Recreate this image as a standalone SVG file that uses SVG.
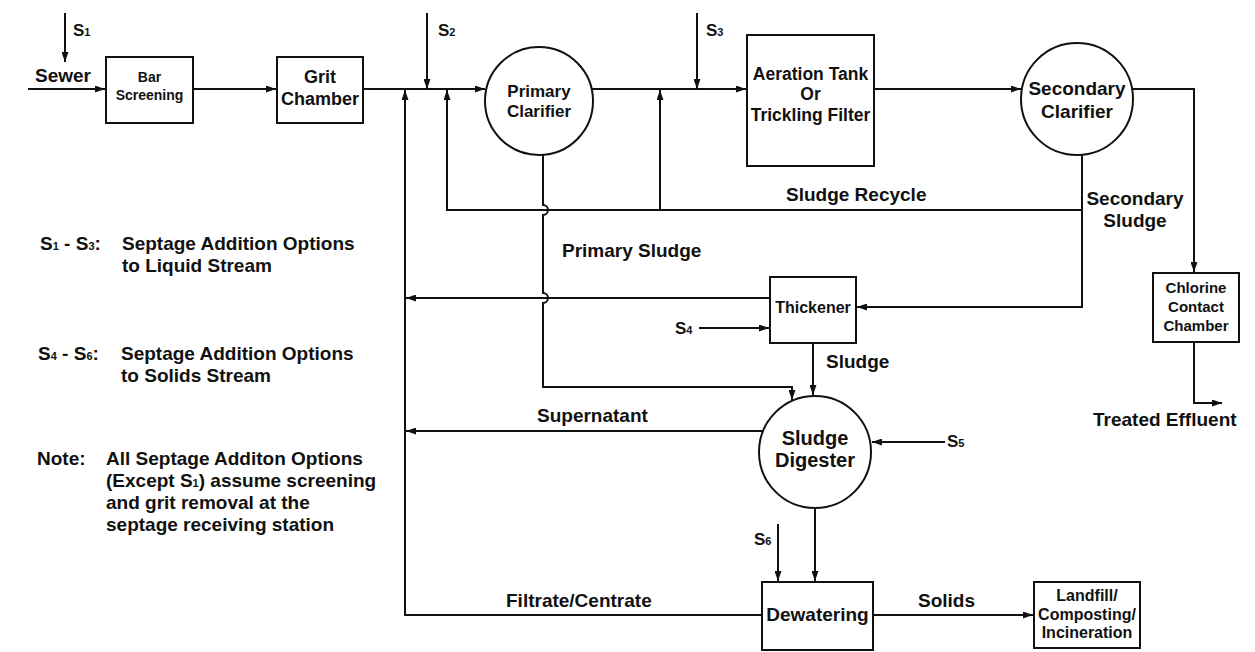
<svg xmlns="http://www.w3.org/2000/svg" width="1255" height="652" viewBox="0 0 1255 652">
<defs>
<marker id="ah" viewBox="0 0 10 7" markerWidth="10" markerHeight="7" refX="10" refY="3.5" orient="auto" markerUnits="userSpaceOnUse">
<path d="M0,0 L10,3.5 L0,7 z" fill="#111"/>
</marker>
<style>
text{font-family:"Liberation Sans",Arial,Helvetica,sans-serif;font-weight:bold;fill:#111}
.box{fill:#fff;stroke:#111;stroke-width:2}
.c{text-anchor:middle}
.lbl{font-size:19px}
.conn path{fill:none;stroke:#111;stroke-width:2}
.arr{marker-end:url(#ah)}
.sub{font-size:11px}
</style>
</defs>
<rect width="1255" height="652" fill="#fff"/>

<g id="connectors" class="conn">
<path class="arr" d="M28,89 H105"/>
<path class="arr" d="M193,89 H276"/>
<path class="arr" d="M363,89 H485"/>
<path class="arr" d="M592,89 H746"/>
<path class="arr" d="M874,89 H1021"/>
<path class="arr" d="M1132,89 H1194 V272"/>
<path class="arr" d="M1194,342 V403 H1222"/>
<path class="arr" d="M65,13 V62"/>
<path class="arr" d="M427,13 V89"/>
<path class="arr" d="M697,13 V89"/>
<path class="arr" d="M1082,155 V307 H857"/>
<path class="arr" d="M1082,210 H447 V90"/>
<path class="arr" d="M660,210 V90"/>
<path class="arr" d="M543,155 V205 a5,5 0 0 1 0,10 V293 a5,5 0 0 1 0,10 V387 H792 V400"/>
<path class="arr" d="M813,343 V395"/>
<path class="arr" d="M770,298 H406"/>
<path class="arr" d="M699,328 H769"/>
<path class="arr" d="M763,431 H406"/>
<path class="arr" d="M945,442 H872"/>
<path class="arr" d="M815,508 V581"/>
<path class="arr" d="M778,524 V581"/>
<path class="arr" d="M762,615 H405 V90"/>
<path class="arr" d="M873,615 H1033"/>
</g>

<g id="bar-screening">
<rect class="box" x="106" y="57" width="87" height="66"/>
<text class="c" x="149.5" y="82" font-size="14">Bar</text>
<text class="c" x="149.5" y="100" font-size="14">Screening</text>
</g>
<g id="grit-chamber">
<rect class="box" x="277" y="57" width="86" height="66"/>
<text class="c" x="320" y="83" font-size="18">Grit</text>
<text class="c" x="320" y="105" font-size="18">Chamber</text>
</g>
<g id="primary-clarifier">
<circle class="box" cx="539" cy="101" r="54"/>
<text class="c" x="539" y="97" font-size="17">Primary</text>
<text class="c" x="539" y="117" font-size="17">Clarifier</text>
</g>
<g id="aeration-tank">
<rect class="box" x="747" y="35" width="127" height="131"/>
<text class="c" x="810.5" y="80" font-size="17.5">Aeration Tank</text>
<text class="c" x="810.5" y="100" font-size="17.5">Or</text>
<text class="c" x="810.5" y="121" font-size="17.5">Trickling Filter</text>
</g>
<g id="secondary-clarifier">
<circle class="box" cx="1077" cy="99" r="56"/>
<text class="c" x="1077" y="95" font-size="19">Secondary</text>
<text class="c" x="1077" y="118" font-size="19">Clarifier</text>
</g>
<g id="chlorine-contact-chamber">
<rect class="box" x="1153" y="273" width="86" height="69"/>
<text class="c" x="1196" y="293" font-size="15">Chlorine</text>
<text class="c" x="1196" y="312" font-size="15">Contact</text>
<text class="c" x="1196" y="331" font-size="15">Chamber</text>
</g>
<g id="thickener">
<rect class="box" x="770" y="277" width="86" height="66"/>
<text class="c" x="813" y="313" font-size="16">Thickener</text>
</g>
<g id="sludge-digester">
<circle class="box" cx="815" cy="452" r="56"/>
<text class="c" x="815" y="445" font-size="20">Sludge</text>
<text class="c" x="815" y="467" font-size="20">Digester</text>
</g>
<g id="dewatering">
<rect class="box" x="762" y="582" width="111" height="68"/>
<text class="c" x="817.5" y="621" font-size="19">Dewatering</text>
</g>
<g id="landfill">
<rect class="box" x="1034" y="582" width="106" height="66"/>
<text class="c" x="1087" y="601" font-size="16">Landfill/</text>
<text class="c" x="1087" y="620" font-size="16">Composting/</text>
<text class="c" x="1087" y="638" font-size="16">Incineration</text>
</g>

<g id="labels" class="lbl">
<text x="35" y="82" font-size="19">Sewer</text>
<text x="73" y="36" font-size="17">S<tspan class="sub">1</tspan></text>
<text x="438" y="36" font-size="17">S<tspan class="sub">2</tspan></text>
<text x="706" y="36" font-size="17">S<tspan class="sub">3</tspan></text>
<text x="675" y="334" font-size="17">S<tspan class="sub">4</tspan></text>
<text x="947" y="447" font-size="17">S<tspan class="sub">5</tspan></text>
<text x="754" y="545" font-size="17">S<tspan class="sub">6</tspan></text>
<text x="786" y="201" font-size="19">Sludge Recycle</text>
<text class="c" x="1135" y="205" font-size="19">Secondary</text>
<text class="c" x="1135" y="227" font-size="19">Sludge</text>
<text x="562" y="257" font-size="19">Primary Sludge</text>
<text x="826" y="368" font-size="19">Sludge</text>
<text x="537" y="422" font-size="19">Supernatant</text>
<text x="1093" y="426" font-size="19">Treated Effluent</text>
<text x="506" y="607" font-size="19">Filtrate/Centrate</text>
<text x="918" y="607" font-size="19">Solids</text>
</g>

<g id="legend" font-size="19">
<text x="40" y="250" font-size="19">S<tspan class="sub">1</tspan> - S<tspan class="sub">3</tspan>:</text>
<text x="122" y="250" font-size="19">Septage Addition Options</text>
<text x="122" y="272" font-size="19">to Liquid Stream</text>
<text x="38" y="360" font-size="19">S<tspan class="sub">4</tspan> - S<tspan class="sub">6</tspan>:</text>
<text x="121" y="360" font-size="19">Septage Addition Options</text>
<text x="121" y="382" font-size="19">to Solids Stream</text>
<text x="37" y="465" font-size="19">Note:</text>
<text x="106" y="465" font-size="19">All Septage Additon Options</text>
<text x="106" y="487" font-size="19">(Except S<tspan class="sub">1</tspan>) assume screening</text>
<text x="106" y="509" font-size="19">and grit removal at the</text>
<text x="106" y="531" font-size="19">septage receiving station</text>
</g>
</svg>
